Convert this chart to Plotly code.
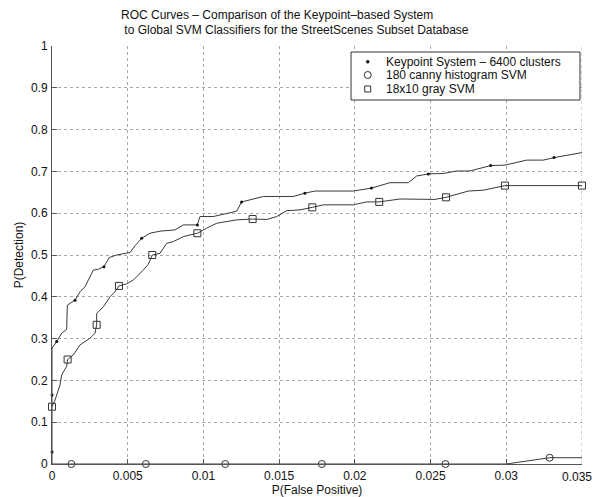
import plotly.graph_objects as go

# Keypoint System - 6400 clusters (line vertices)
kp_x = [0, 0, 0, 0.00031, 0.00064, 0.00097, 0.00101, 0.00152, 0.00185, 0.00218, 0.00273, 0.00306,
        0.00343, 0.00378, 0.00427, 0.00515, 0.00548, 0.00592, 0.00647, 0.00713, 0.00812, 0.00867,
        0.0096, 0.00977, 0.01065, 0.01175, 0.0122, 0.01252, 0.01396, 0.01594, 0.0167, 0.01737,
        0.0199, 0.0211, 0.02232, 0.02353, 0.02408, 0.02485, 0.02584, 0.02672, 0.0276, 0.02897,
        0.02991, 0.03135, 0.03245, 0.03315, 0.035]
kp_y = [0, 0.029, 0.277, 0.293, 0.313, 0.322, 0.380, 0.392, 0.412, 0.424, 0.464, 0.466,
        0.472, 0.494, 0.500, 0.506, 0.522, 0.540, 0.552, 0.557, 0.560, 0.572,
        0.572, 0.592, 0.592, 0.601, 0.605, 0.627, 0.640, 0.640, 0.648, 0.653,
        0.653, 0.660, 0.673, 0.673, 0.689, 0.694, 0.695, 0.701, 0.701, 0.714,
        0.715, 0.727, 0.727, 0.733, 0.745]
kp_mx = [0, 0, 0.00031, 0.00152, 0.00343, 0.00592, 0.0096, 0.01252, 0.0167, 0.0211, 0.02485, 0.02897, 0.03315]
kp_my = [0.029, 0.165, 0.293, 0.392, 0.472, 0.540, 0.572, 0.627, 0.648, 0.660, 0.694, 0.714, 0.733]

# 180 canny histogram SVM
cn_x = [0, 0.03, 0.03286, 0.035]
cn_y = [0, 0, 0.015, 0.015]
cn_mx = [0.00128, 0.0062, 0.01144, 0.01782, 0.02598, 0.03286]
cn_my = [0, 0, 0, 0, 0, 0.015]

# 18x10 gray SVM
gr_x = [0, 0.0002, 0.00053, 0.00064, 0.00097, 0.00103, 0.00141, 0.00185, 0.00251, 0.00284, 0.00295,
        0.00295, 0.00339, 0.00383, 0.00416, 0.00442, 0.00493, 0.00537, 0.00603, 0.00636, 0.00662,
        0.00713, 0.00757, 0.00801, 0.00867, 0.0096, 0.0102, 0.01088, 0.0122, 0.01325, 0.01418,
        0.01484, 0.0155, 0.01638, 0.01719, 0.01792, 0.0199, 0.02078, 0.02161, 0.02298, 0.02529,
        0.02602, 0.02749, 0.02848, 0.02991, 0.035]
gr_y = [0.137, 0.153, 0.189, 0.213, 0.234, 0.250, 0.261, 0.285, 0.301, 0.313, 0.333,
        0.360, 0.376, 0.400, 0.412, 0.426, 0.431, 0.440, 0.464, 0.478, 0.500,
        0.504, 0.528, 0.532, 0.544, 0.552, 0.564, 0.576, 0.584, 0.586, 0.585,
        0.592, 0.606, 0.608, 0.614, 0.620, 0.620, 0.627, 0.627, 0.634, 0.633,
        0.638, 0.653, 0.655, 0.666, 0.666]
gr_mx = [0, 0.00103, 0.00295, 0.00442, 0.00662, 0.0096, 0.01325, 0.01719, 0.02161, 0.02602, 0.02991, 0.035]
gr_my = [0.137, 0.250, 0.333, 0.426, 0.500, 0.552, 0.586, 0.614, 0.627, 0.638, 0.666, 0.666]

series_names = ["Keypoint System \u2013 6400 clusters", "180 canny histogram SVM", "18x10 gray SVM"]

x_ticks = [0, 0.005, 0.01, 0.015, 0.02, 0.025, 0.03, 0.035]
x_labels = ["0", "0.005", "0.01", "0.015", "0.02", "0.025", "0.03", "0.035"]
y_ticks = [0, 0.1, 0.2, 0.3, 0.4, 0.5, 0.6, 0.7, 0.8, 0.9, 1]
y_labels = ["0", "0.1", "0.2", "0.3", "0.4", "0.5", "0.6", "0.7", "0.8", "0.9", "1"]

LINE = "#3a3a3a"
MK = "#333"
GRID = "#a8a8a8"
FONT = "Liberation Sans, Arial, sans-serif"

fig = go.Figure()
fig.add_trace(go.Scatter(x=kp_x, y=kp_y, mode="lines", line=dict(color=LINE, width=1),
                         showlegend=False, hoverinfo="skip"))
fig.add_trace(go.Scatter(x=cn_x, y=cn_y, mode="lines", line=dict(color=LINE, width=1),
                         showlegend=False, hoverinfo="skip", cliponaxis=False))
fig.add_trace(go.Scatter(x=gr_x, y=gr_y, mode="lines", line=dict(color=LINE, width=1),
                         showlegend=False, hoverinfo="skip"))
fig.add_trace(go.Scatter(x=kp_mx, y=kp_my, mode="markers", name=series_names[0], showlegend=False,
                         marker=dict(symbol="circle", size=3, color="#111"), cliponaxis=False))
fig.add_trace(go.Scatter(x=cn_mx, y=cn_my, mode="markers", name=series_names[1], showlegend=False,
                         marker=dict(symbol="circle-open", size=7, color=MK, line=dict(width=1)),
                         cliponaxis=False))
fig.add_trace(go.Scatter(x=gr_mx, y=gr_my, mode="markers", name=series_names[2], showlegend=False,
                         marker=dict(symbol="square-open", size=7, color=MK, line=dict(width=1)),
                         cliponaxis=False))

axis_common = dict(showline=True, linecolor="#555", linewidth=1, ticks="inside", ticklen=5,
                   tickcolor="#555", showgrid=True, gridcolor=GRID, griddash="dot",
                   gridwidth=1, zeroline=False, automargin=False,
                   tickfont=dict(size=12, color="#111", family=FONT))

# Manual legend (MATLAB style: compact rows, marker-only symbols)
leg_x0, leg_x1, leg_y0, leg_y1 = 0.5642, 0.9962, 0.8708, 0.9856
row_y = [0.9624, 0.9306, 0.8971]
sym_x = 0.5957
txt_x = 0.6258

shapes = [
    # right edge dotted grid line (x = 0.035)
    dict(type="line", xref="x", yref="paper", x0=0.035, x1=0.035, y0=0, y1=1,
         line=dict(color=GRID, width=1, dash="dot"), layer="below"),
    dict(type="rect", xref="paper", yref="paper", x0=leg_x0, x1=leg_x1, y0=leg_y0, y1=leg_y1,
         line=dict(color="#333", width=1), fillcolor="white", layer="above"),
    dict(type="circle", xref="paper", yref="paper", xsizemode="pixel", ysizemode="pixel",
         xanchor=sym_x, yanchor=row_y[0], x0=-1.5, x1=1.5, y0=-1.5, y1=1.5,
         fillcolor="#111", line=dict(color="#111", width=0.5)),
    dict(type="circle", xref="paper", yref="paper", xsizemode="pixel", ysizemode="pixel",
         xanchor=sym_x, yanchor=row_y[1], x0=-3.5, x1=3.5, y0=-3.5, y1=3.5,
         line=dict(color=MK, width=1)),
    dict(type="rect", xref="paper", yref="paper", xsizemode="pixel", ysizemode="pixel",
         xanchor=sym_x, yanchor=row_y[2], x0=-3, x1=3, y0=-3, y1=3,
         line=dict(color=MK, width=1)),
]

annotations = [dict(text=series_names[i], xref="paper", yref="paper", x=txt_x, y=row_y[i],
                    xanchor="left", yanchor="middle", showarrow=False,
                    font=dict(size=12, family=FONT, color="#111")) for i in range(3)]
# last x tick label, kept inside the page edge
annotations.append(dict(text=x_labels[-1], xref="paper", yref="paper", x=1, y=0,
                        xanchor="right", yanchor="top", xshift=12, yshift=-3.5, showarrow=False,
                        font=dict(size=12, family=FONT, color="#111")))

fig.update_layout(
    width=595, height=497,
    margin=dict(l=52, r=13, t=46, b=33),
    paper_bgcolor="white", plot_bgcolor="white",
    font=dict(family=FONT, size=12, color="#111"),
    title=dict(text="ROC Curves \u2013 Comparison of the Keypoint\u2013based System<br>\u00a0to Global SVM Classifiers for the StreetScenes Subset Database",
               x=121 / 595, xanchor="left", y=0.962, yanchor="top", font=dict(size=12, family=FONT)),
    xaxis=dict(range=[0, 0.035], tickvals=x_ticks, ticktext=x_labels[:-1] + [""], ticklabelstandoff=1,
               title=dict(text="P(False Positive)", standoff=0, font=dict(size=12)), **axis_common),
    yaxis=dict(range=[0, 1], tickvals=y_ticks, ticktext=y_labels, ticklabelstandoff=1,
               title=dict(text="P(Detection)", standoff=4, font=dict(size=12)), **axis_common),
    shapes=shapes,
    annotations=annotations,
    showlegend=False,
)

fig.write_html("out.html")
